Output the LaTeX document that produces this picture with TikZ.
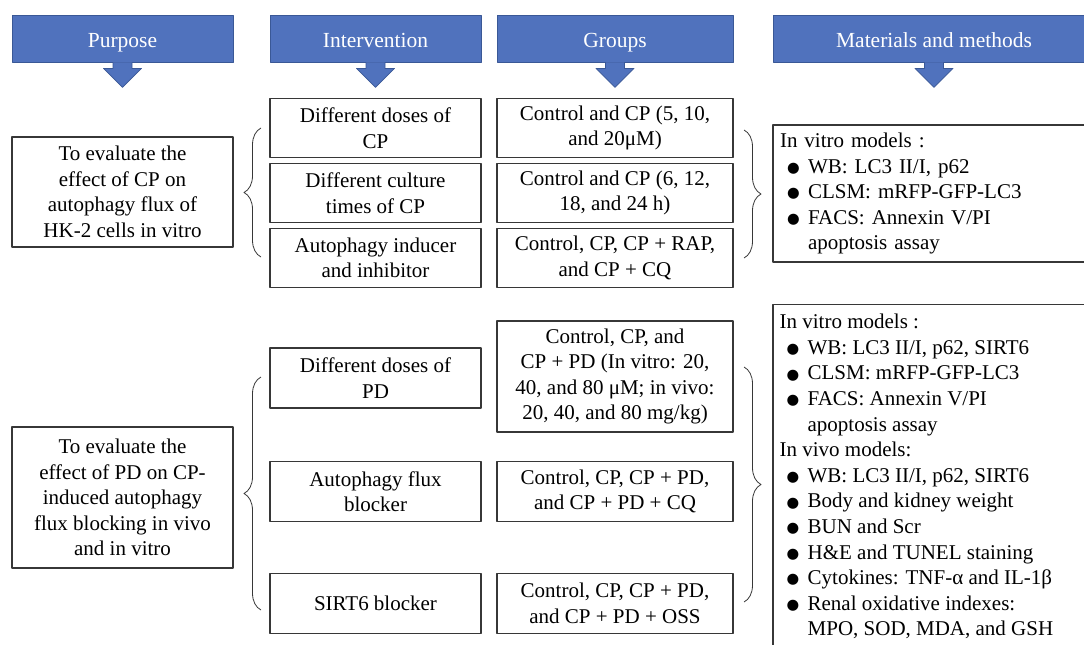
\documentclass[tikz,border=0pt]{standalone}
\usepackage{fontspec}
\setmainfont{Liberation Serif}
\newfontfamily\symfont{DejaVu Sans}
\usetikzlibrary{calc,decorations.pathreplacing}
\definecolor{hdrblue}{RGB}{80,114,189}
\definecolor{hdredge}{RGB}{58,88,150}
\definecolor{boxedge}{RGB}{55,55,55}
\newcommand{\bul}{\makebox[28pt][l]{\hspace{7pt}\raisebox{0.8pt}{\symfont\fontsize{14.5}{14.5}\selectfont ●}}}
\newcommand{\ind}{\hspace*{28pt}}

\begin{document}
\begin{tikzpicture}[x=1pt,y=-1pt,line join=round,
  hdr/.style={draw=hdredge,line width=0.8pt,fill=hdrblue,text=white,minimum height=47pt,
    inner sep=0pt,text height=19.5pt,text depth=2.5pt,font=\fontsize{21.5}{25}\selectfont},
  box/.style={draw=boxedge,line width=1.1pt,align=center,inner sep=0pt,
    font=\fontsize{21}{25.5}\selectfont},
  mmtext/.style={align=left,inner sep=0pt,font=\fontsize{21}{25.6}\selectfont},
  brc/.style={decorate,decoration={brace,amplitude=17pt},line width=0.8pt,draw=boxedge}]
  \useasboundingbox (0,0) rectangle (1084,645);
  \clip (0,0) rectangle (1084,645);

  \node[hdr,minimum width=221pt] (hpur) at (122.5,38.5) {Purpose};
  \node[hdr,minimum width=211pt] (hint) at (375.5,38.5) {Intervention};
  \node[hdr,minimum width=236pt] (hgrp) at (615,38.5) {Groups};
  \node[hdr,minimum width=322pt] (hmm) at (934,38.5) {Materials and methods};
  \foreach \h in {hpur,hint,hgrp,hmm}
    \filldraw[draw=hdredge,line width=0.8pt,fill=hdrblue] ($(\h.south)+(-9.5,0)$) -- ++(0,6) -- ++(-9.5,0)
      -- ($(\h.south)+(0,25)$) -- ($(\h.south)+(19,6)$) -- ++(-9.5,0) -- ++(0,-6);

  \node[box,minimum width=221pt,minimum height=110pt] (p1) at (122.5,192)
    {To evaluate the\\effect of CP on\\autophagy flux of\\HK-2 cells in vitro};
  \node[box,minimum width=211pt,minimum height=59pt] (i1) at (375.5,128) {Different doses of\\CP};
  \node[box,minimum width=211pt,minimum height=59pt] (i2) at (375.5,193) {Different culture\\times of CP};
  \node[box,minimum width=211pt,minimum height=59pt] (i3) at (375.5,258) {Autophagy inducer\\and inhibitor};
  \node[box,minimum width=236pt,minimum height=59pt] (g1) at (615,128) {Control and CP (5, 10,\\and 20μM)};
  \node[box,minimum width=236pt,minimum height=59pt] (g2) at (615,193) {Control and CP (6, 12,\\18, and 24 h)};
  \node[box,minimum width=236pt,minimum height=59pt] (g3) at (615,258) {Control, CP, CP + RAP,\\and CP + CQ};
  \node[box,minimum width=322pt,minimum height=137pt,align=left,text width=308pt,inner xsep=7pt] (m1) at (934,193.5)
    {In vitro models :\\\bul WB: LC3 II/I, p62\\\bul CLSM: mRFP-GFP-LC3\\\bul FACS: Annexin V/PI\\\ind apoptosis assay};
  \draw[brc] (261,257) -- (261,128);
  \draw[brc] (744,130) -- (744,258);

  \node[box,minimum width=221pt,minimum height=141pt] (p2) at (122.5,497.5)
    {To evaluate the\\effect of PD on CP-\\induced autophagy\\flux blocking in vivo\\and in vitro};
  \node[box,minimum width=211pt,minimum height=60pt] (i4) at (375.5,378) {Different doses of\\PD};
  \node[box,minimum width=211pt,minimum height=60pt] (i5) at (375.5,491.5) {Autophagy flux\\blocker};
  \node[box,minimum width=211pt,minimum height=60pt] (i6) at (375.5,603.5) {SIRT6 blocker};
  \node[box,minimum width=236pt,minimum height=111pt] (g4) at (615,376.5)
    {Control, CP, and\\CP + PD (In vitro: 20,\\40, and 80 μM; in vivo:\\20, 40, and 80 mg/kg)};
  \node[box,minimum width=236pt,minimum height=60pt] (g5) at (615,491.5) {Control, CP, CP + PD,\\and CP + PD + CQ};
  \node[box,minimum width=236pt,minimum height=60pt] (g6) at (615,603.5) {Control, CP, CP + PD,\\and CP + PD + OSS};
  \node[box,minimum width=322pt,minimum height=360pt,anchor=north] (m2) at (934,304) {};
  \node[mmtext,anchor=north west] (m2t) at ($(m2.north west)+(7,10)$)
    {In vitro models :\\\bul WB: LC3 II/I, p62, SIRT6\\\bul CLSM: mRFP-GFP-LC3\\\bul FACS: Annexin V/PI\\\ind apoptosis assay\\
     In vivo models:\\\bul WB: LC3 II/I, p62, SIRT6\\\bul Body and kidney weight\\\bul BUN and Scr\\\bul H\&E and TUNEL staining\\
     \bul Cytokines: TNF-α and IL-1β\\\bul Renal oxidative indexes:\\\ind MPO, SOD, MDA, and GSH};
  \draw[brc] (261,610) -- (261,377);
  \draw[brc] (744,367) -- (744,602);
\end{tikzpicture}
\end{document}
